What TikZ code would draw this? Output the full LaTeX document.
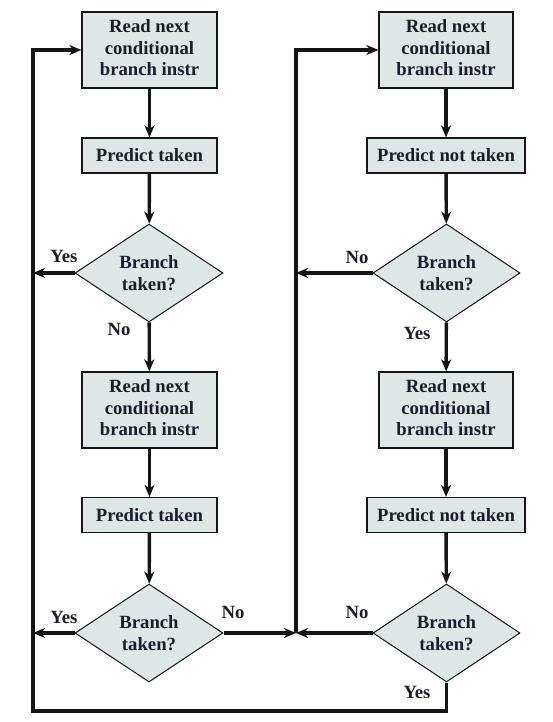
\documentclass[tikz,border=0pt]{standalone}
\usepackage{fontspec}
\setmainfont{Liberation Serif}
\usetikzlibrary{shapes.geometric,arrows.meta}
\definecolor{boxfill}{HTML}{DEE7E5}
\definecolor{txt}{HTML}{1C1C2C}
\definecolor{ln}{HTML}{151515}
\begin{document}
\begin{tikzpicture}[x=1pt,y=-1pt,
  every node/.style={font=\fontsize{18.7}{21.5}\selectfont\bfseries, text=txt},
  tallbox/.style={draw=ln, line width=1.2pt, fill=boxfill, minimum width=135pt, minimum height=76pt, inner sep=0pt, align=center, text depth=4pt},
  flatbox/.style={draw=ln, line width=1.2pt, fill=boxfill, minimum height=35pt, inner sep=0pt, align=center},
  decide/.style={diamond, draw=ln, line width=1pt, fill=boxfill, minimum width=148pt, minimum height=98pt, inner sep=0pt, align=center},
  lbl/.style={inner sep=0pt},
  flow/.style={draw=ln, line width=3.4pt},
  arr/.style={flow, -{Stealth[length=12pt,width=10pt,inset=3.5pt]}}]
\useasboundingbox (0,0) rectangle (552,722);
% left column
\node[tallbox] (L1) at (149.5,50) {Read next\\conditional\\branch instr};
\node[flatbox, minimum width=135pt] (L2) at (149.5,155.5) {Predict taken};
\node[decide] (L3) at (149,273) {Branch\\taken?};
\node[tallbox] (L4) at (149.5,410) {Read next\\conditional\\branch instr};
\node[flatbox, minimum width=135pt] (L5) at (149.5,515) {Predict taken};
\node[decide] (L6) at (149,633) {Branch\\taken?};
% right column
\node[tallbox, minimum width=134pt] (R1) at (446,50) {Read next\\conditional\\branch instr};
\node[flatbox, minimum width=158pt] (R2) at (446,155.5) {Predict not taken};
\node[decide, minimum width=147pt] (R3) at (446.5,273) {Branch\\taken?};
\node[tallbox, minimum width=134pt] (R4) at (446,410) {Read next\\conditional\\branch instr};
\node[flatbox, minimum width=158pt] (R5) at (446,515) {Predict not taken};
\node[decide, minimum width=147pt] (R6) at (446.5,633) {Branch\\taken?};
% routing coordinates
\coordinate (lx) at (33,0);
\coordinate (mx) at (296,0);
\coordinate (mj) at (296,633);
\coordinate (bot) at (0,711);
% left column flow
\draw[arr] (L1) -- (L2);
\draw[arr] (L2) -- (L3);
\draw[arr] (L3) -- (L4);
\draw[arr] (L4) -- (L5);
\draw[arr] (L5) -- (L6);
\draw[arr] (L3.west) -- (L3.west -| lx);
\draw[arr] (L6.west) -- (L6.west -| lx);
\draw[arr] (L6.east) -- (mj);
% right column flow
\draw[arr] (R1) -- (R2);
\draw[arr] (R2) -- (R3);
\draw[arr] (R3) -- (R4);
\draw[arr] (R4) -- (R5);
\draw[arr] (R5) -- (R6);
\draw[arr] (R3.west) -- (R3.west -| mx);
\draw[arr] (R6.west) -- (mj);
% loops
\draw[arr] (mj) -- (R1.west -| mx) -- (R1.west);
\draw[arr] (R6.south) -- (R6.south |- bot) -- (bot -| lx) -- (L1.west -| lx) -- (L1.west);
% labels
\node[lbl] (y1) at (64,256) {Yes};
\node[lbl] (n1) at (119,329) {No};
\node[lbl] (n2) at (357,257) {No};
\node[lbl] (y2) at (417,333) {Yes};
\node[lbl] (y3) at (64,617) {Yes};
\node[lbl] (n3) at (233,612) {No};
\node[lbl] (n4) at (357,612) {No};
\node[lbl] (y4) at (417,692) {Yes};
\end{tikzpicture}
\end{document}
